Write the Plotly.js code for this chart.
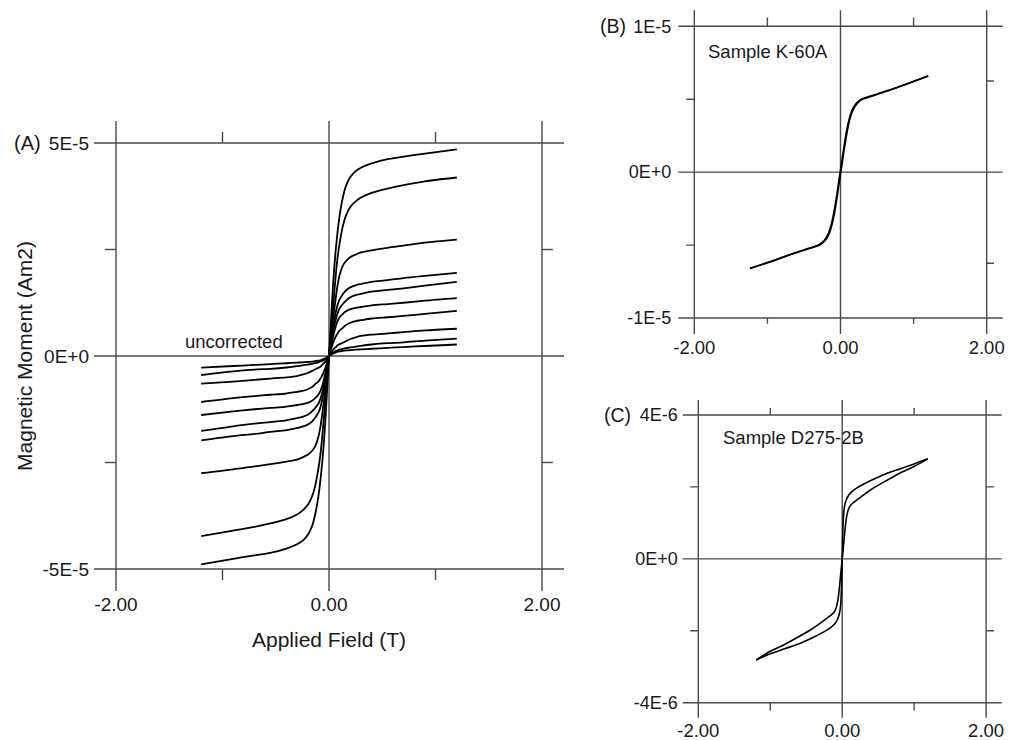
<!DOCTYPE html>
<html>
<head>
<meta charset="utf-8">
<script src="https://cdn.plot.ly/plotly-3.0.1.min.js"></script>
<style>html,body{margin:0;padding:0;background:#fff;}#chart{width:1009px;height:740px;}</style>
</head>
<body>
<div id="chart"></div>
<script>
// ---------------- DATA ----------------
// Panel A: applied field (T) and magnetic moment (units of 1E-5 Am2), ten uncorrected loops
const fieldA = [-1.2,-0.9,-0.7,-0.55,-0.4,-0.3,-0.25,-0.2,-0.16,-0.13,-0.1,-0.08,-0.06,-0.04,-0.02,0,
                0.02,0.04,0.06,0.08,0.1,0.13,0.16,0.2,0.25,0.3,0.4,0.55,0.7,0.9,1.2];
const momentA1  = [-4.89,-4.76,-4.68,-4.62,-4.52,-4.42,-4.34,-4.2,-4.0,-3.72,-3.3,-2.9,-2.4,-1.75,-0.9,0,
                   0.9,1.75,2.4,2.9,3.3,3.72,4.0,4.2,4.34,4.42,4.52,4.62,4.68,4.75,4.85];
const momentA2  = [-4.23,-4.1,-4.01,-3.93,-3.83,-3.72,-3.63,-3.5,-3.3,-3.05,-2.65,-2.3,-1.8,-1.2,-0.6,0,
                   0.6,1.2,1.8,2.3,2.65,3.05,3.3,3.5,3.63,3.72,3.83,3.93,4.01,4.1,4.19];
const momentA3  = [-2.75,-2.66,-2.59,-2.54,-2.48,-2.43,-2.38,-2.32,-2.23,-2.12,-1.9,-1.65,-1.3,-0.9,-0.45,0,
                   0.45,0.9,1.3,1.65,1.9,2.12,2.23,2.32,2.38,2.43,2.48,2.54,2.59,2.66,2.73];
const momentA4  = [-1.98,-1.88,-1.83,-1.78,-1.74,-1.69,-1.66,-1.61,-1.54,-1.45,-1.33,-1.2,-0.98,-0.68,-0.35,0,
                   0.35,0.68,0.98,1.2,1.33,1.45,1.54,1.61,1.66,1.69,1.74,1.78,1.83,1.88,1.95];
const momentA5  = [-1.76,-1.65,-1.59,-1.55,-1.51,-1.46,-1.43,-1.38,-1.3,-1.22,-1.12,-1.0,-0.82,-0.58,-0.3,0,
                   0.3,0.58,0.82,1.0,1.12,1.22,1.3,1.38,1.43,1.46,1.51,1.55,1.59,1.65,1.74];
const momentA6  = [-1.385,-1.3,-1.25,-1.22,-1.19,-1.15,-1.13,-1.1,-1.05,-0.99,-0.91,-0.82,-0.67,-0.47,-0.25,0,
                   0.25,0.47,0.67,0.82,0.91,0.99,1.05,1.1,1.13,1.15,1.19,1.22,1.25,1.3,1.36];
const momentA7  = [-1.08,-0.99,-0.94,-0.91,-0.88,-0.84,-0.82,-0.78,-0.73,-0.66,-0.6,-0.53,-0.44,-0.32,-0.17,0,
                   0.17,0.32,0.44,0.53,0.6,0.66,0.73,0.78,0.82,0.84,0.88,0.91,0.94,0.99,1.06];
const momentA8  = [-0.65,-0.6,-0.56,-0.53,-0.5,-0.47,-0.44,-0.4,-0.35,-0.31,-0.28,-0.25,-0.2,-0.15,-0.08,0,
                   0.08,0.15,0.2,0.25,0.28,0.31,0.35,0.4,0.44,0.47,0.5,0.53,0.56,0.6,0.64];
const momentA9  = [-0.446,-0.36,-0.32,-0.3,-0.27,-0.24,-0.22,-0.2,-0.185,-0.17,-0.15,-0.13,-0.11,-0.08,-0.04,0,
                   0.04,0.08,0.11,0.13,0.15,0.17,0.185,0.2,0.22,0.24,0.27,0.3,0.32,0.36,0.41];
const momentA10 = [-0.275,-0.235,-0.21,-0.19,-0.17,-0.155,-0.15,-0.14,-0.13,-0.12,-0.11,-0.1,-0.08,-0.06,-0.03,0,
                   0.03,0.06,0.08,0.1,0.11,0.12,0.13,0.14,0.15,0.155,0.17,0.19,0.21,0.235,0.27];
const momentsA = [momentA1,momentA2,momentA3,momentA4,momentA5,momentA6,momentA7,momentA8,momentA9,momentA10];

// Panel B: Sample K-60A (moment in units of 1E-6 Am2)
const fieldB_desc  = [1.2,0.9,0.7,0.5,0.4,0.3,0.25,0.2,0.16,0.13,0.1,0.08,0.06,0.04,0.02,0,
                      -0.02,-0.04,-0.06,-0.08,-0.1,-0.13,-0.16,-0.2,-0.25,-0.3,-0.4,-0.5,-0.7,-0.9,-1.24];
const momentB_desc = [6.6,6.05,5.68,5.36,5.2,5.03,4.88,4.62,4.28,3.85,3.25,2.75,2.15,1.5,0.8,0.15,
                      -0.5,-1.2,-1.85,-2.45,-3.0,-3.65,-4.12,-4.52,-4.82,-4.99,-5.16,-5.33,-5.66,-6.03,-6.6];
const fieldB_asc   = [-1.24,-0.9,-0.7,-0.5,-0.4,-0.3,-0.25,-0.2,-0.16,-0.13,-0.1,-0.08,-0.06,-0.04,-0.02,0,
                      0.02,0.04,0.06,0.08,0.1,0.13,0.16,0.2,0.25,0.3,0.4,0.5,0.7,0.9,1.2];
const momentB_asc  = [-6.6,-6.05,-5.68,-5.36,-5.2,-5.03,-4.88,-4.62,-4.28,-3.85,-3.25,-2.75,-2.15,-1.5,-0.8,-0.15,
                      0.5,1.2,1.85,2.45,3.0,3.65,4.12,4.52,4.82,4.99,5.16,5.33,5.66,6.03,6.6];

// Panel C: Sample D275-2B (moment in units of 1E-6 Am2)
const fieldC_desc  = [1.19,1.0,0.8,0.6,0.42,0.3,0.22,0.16,0.12,0.09,0.065,0.045,0.03,0.02,0.013,0.008,0.004,0,
                      -0.015,-0.03,-0.045,-0.06,-0.075,-0.095,-0.12,-0.16,-0.22,-0.3,-0.42,-0.6,-0.8,-1.0,-1.196];
const momentC_desc = [2.78,2.64,2.5,2.36,2.2,2.08,1.99,1.91,1.84,1.77,1.68,1.57,1.43,1.25,1.0,0.7,0.35,0,
                      -0.3,-0.62,-0.92,-1.15,-1.3,-1.42,-1.5,-1.57,-1.66,-1.78,-1.95,-2.16,-2.38,-2.57,-2.81];
const fieldC_asc   = [-1.196,-1.0,-0.8,-0.6,-0.42,-0.3,-0.22,-0.16,-0.12,-0.09,-0.065,-0.045,-0.03,-0.02,-0.013,-0.008,-0.004,0,
                      0.015,0.03,0.045,0.06,0.075,0.095,0.12,0.16,0.22,0.3,0.42,0.6,0.8,1.0,1.19];
const momentC_asc  = [-2.81,-2.64,-2.5,-2.36,-2.2,-2.08,-1.99,-1.91,-1.84,-1.77,-1.68,-1.57,-1.43,-1.25,-1.0,-0.7,-0.35,0,
                      0.3,0.62,0.92,1.15,1.3,1.42,1.5,1.57,1.66,1.78,1.95,2.16,2.38,2.57,2.78];

// Tick labels
const xTickVals = [-2,0,2];
const xTickText = ['-2.00','0.00','2.00'];
const yTickValsA = [-5,0,5];   const yTickTextA = ['-5E-5','0E+0','5E-5'];
const yTickValsB = [-10,0,10]; const yTickTextB = ['-1E-5','0E+0','1E-5'];
const yTickValsC = [-4,0,4];   const yTickTextC = ['-4E-6','0E+0','4E-6'];

// ---------------- LAYOUT ----------------
const W = 1009, H = 740;
const px = v => v / W;
const py = v => 1 - v / H;
const FONT = 'Liberation Sans, Arial, Helvetica, sans-serif';
const TXT = '#1a1a1a';
const FRAME = '#4a4a4a';

const traces = [];
momentsA.forEach((m) => {
  traces.push({x: fieldA, y: m, xaxis: 'x', yaxis: 'y', mode: 'lines',
    line: {color: '#000', width: 1.8, shape: 'spline', smoothing: 0.8}, hoverinfo: 'skip', showlegend: false});
});
[[fieldB_desc, momentB_desc], [fieldB_asc, momentB_asc]].forEach(([x, y]) => {
  traces.push({x: x, y: y, xaxis: 'x2', yaxis: 'y2', mode: 'lines',
    line: {color: '#000', width: 1.6, shape: 'spline', smoothing: 0.8}, hoverinfo: 'skip', showlegend: false});
});
[[fieldC_desc, momentC_desc], [fieldC_asc, momentC_asc]].forEach(([x, y]) => {
  traces.push({x: x, y: y, xaxis: 'x3', yaxis: 'y3', mode: 'lines',
    line: {color: '#000', width: 1.6, shape: 'spline', smoothing: 0.8}, hoverinfo: 'skip', showlegend: false});
});

function xax(domain, range, anchor, extra) {
  return Object.assign({domain: domain, range: range, anchor: anchor, showgrid: false, zeroline: false,
    showline: false, ticks: '', tickvals: xTickVals, ticktext: xTickText,
    tickfont: {family: FONT, size: 19, color: TXT}, fixedrange: true}, extra || {});
}
function yax(domain, range, anchor, tv, tt, extra) {
  return Object.assign({domain: domain, range: range, anchor: anchor, showgrid: false, zeroline: false,
    showline: false, ticks: '', tickvals: tv, ticktext: tt, ticklabelstandoff: 4,
    tickfont: {family: FONT, size: 19, color: TXT}, fixedrange: true}, extra || {});
}

// panel frames (crosshair style lines extending past the box) and minor ticks
const panels = [
  {xr: 'x', yr: 'y', xs: [-2,0,2], ys: [-5,0,5],
   ticks: [ // [x0,y0,x1,y1]
     [-1,5,-1,5.258],[1,5,1,5.258],[-1,-5,-1,-5.258],[1,-5,1,-5.258],
     [-2,2.5,-2.103,2.5],[-2,-2.5,-2.103,-2.5],[2,2.5,2.103,2.5],[2,-2.5,2.103,-2.5]]},
  {xr: 'x2', yr: 'y2', xs: [-2,0,2], ys: [-10,0,10],
   ticks: [
     [-1,10,-1,10.6],[1,10,1,10.6],[-1,-10,-1,-10.4],[1,-10,1,-10.4],
     [-2,5,-2.11,5],[-2,-5,-2.11,-5],[2,6.25,2.1,6.25],[2,-6.25,2.1,-6.25]]},
  {xr: 'x3', yr: 'y3', xs: [-2,0,2], ys: [-4,0,4],
   ticks: [
     [-1,4,-1,4.195],[1,4,1,4.195],[-1,-4,-1,-4.22],[1,-4,1,-4.22],
     [-2,2,-2.111,2],[-2,-2,-2.111,-2],[2,2,2.111,2],[2,-2,2.111,-2]]}
];
const shapes = [];
panels.forEach(p => {
  const ln = {color: FRAME, width: 1.4};
  p.ys.forEach(v => shapes.push({type: 'line', layer: 'below', xref: p.xr + ' domain', yref: p.yr, x0: 0, x1: 1, y0: v, y1: v, line: ln}));
  p.xs.forEach(v => shapes.push({type: 'line', layer: 'below', xref: p.xr, yref: p.yr + ' domain', x0: v, x1: v, y0: 0, y1: 1, line: ln}));
  p.ticks.forEach(t => shapes.push({type: 'line', layer: 'below', xref: p.xr, yref: p.yr, x0: t[0], y0: t[1], x1: t[2], y1: t[3], line: ln}));
});

const annFont = s => ({family: FONT, size: s, color: TXT});
const annotations = [
  {text: '(A)', x: px(12), y: py(143), xref: 'paper', yref: 'paper', xanchor: 'left', yanchor: 'middle', showarrow: false, font: annFont(20)},
  {text: 'uncorrected', x: px(233.5), y: py(341), xref: 'paper', yref: 'paper', xanchor: 'center', yanchor: 'middle', showarrow: false, font: annFont(18.5)},
  {text: '(B)', x: px(598), y: py(26), xref: 'paper', yref: 'paper', xanchor: 'left', yanchor: 'middle', showarrow: false, font: annFont(19.5)},
  {text: 'Sample K-60A', x: px(706), y: py(52), xref: 'paper', yref: 'paper', xanchor: 'left', yanchor: 'middle', showarrow: false, font: annFont(18.5)},
  {text: '(C)', x: px(602), y: py(415), xref: 'paper', yref: 'paper', xanchor: 'left', yanchor: 'middle', showarrow: false, font: annFont(19.5)},
  {text: 'Sample D275-2B', x: px(721), y: py(437), xref: 'paper', yref: 'paper', xanchor: 'left', yanchor: 'middle', showarrow: false, font: annFont(18.5)}
];

const layout = {
  width: W, height: H,
  margin: {l: 0, r: 0, t: 0, b: 0, pad: 0},
  paper_bgcolor: '#ffffff', plot_bgcolor: 'rgba(0,0,0,0)',
  showlegend: false,
  font: {family: FONT, color: TXT},
  xaxis: xax([px(94), px(564)], [-2.2066, 2.2066], 'y', {
    title: {text: 'Applied Field (T)', font: {family: FONT, size: 21, color: TXT}, standoff: 18}}),
  yaxis: yax([py(591), py(121)], [-5.5164, 5.5164], 'x', yTickValsA, yTickTextA, {
    title: {text: 'Magnetic Moment (Am2)', font: {family: FONT, size: 21, color: TXT}, standoff: 4}}),
  xaxis2: xax([px(678.3), px(1002.7)], [-2.219, 2.219], 'y2', {tickfont: {family: FONT, size: 18.5, color: TXT}}),
  yaxis2: yax([py(334), py(10.3)], [-11.097, 11.097], 'x2', yTickValsB, yTickTextB, {tickfont: {family: FONT, size: 18, color: TXT}, ticklabelstandoff: 6}),
  xaxis3: xax([px(682.7), px(1001.7)], [-2.217, 2.217], 'y3', {tickfont: {family: FONT, size: 18.5, color: TXT}}),
  yaxis3: yax([py(717.7), py(400)], [-4.417, 4.417], 'x3', yTickValsC, yTickTextC, {tickfont: {family: FONT, size: 18, color: TXT}, ticklabelstandoff: 4}),
  shapes: shapes,
  annotations: annotations
};

Plotly.newPlot('chart', traces, layout, {staticPlot: true, displayModeBar: false});
</script>
</body>
</html>
